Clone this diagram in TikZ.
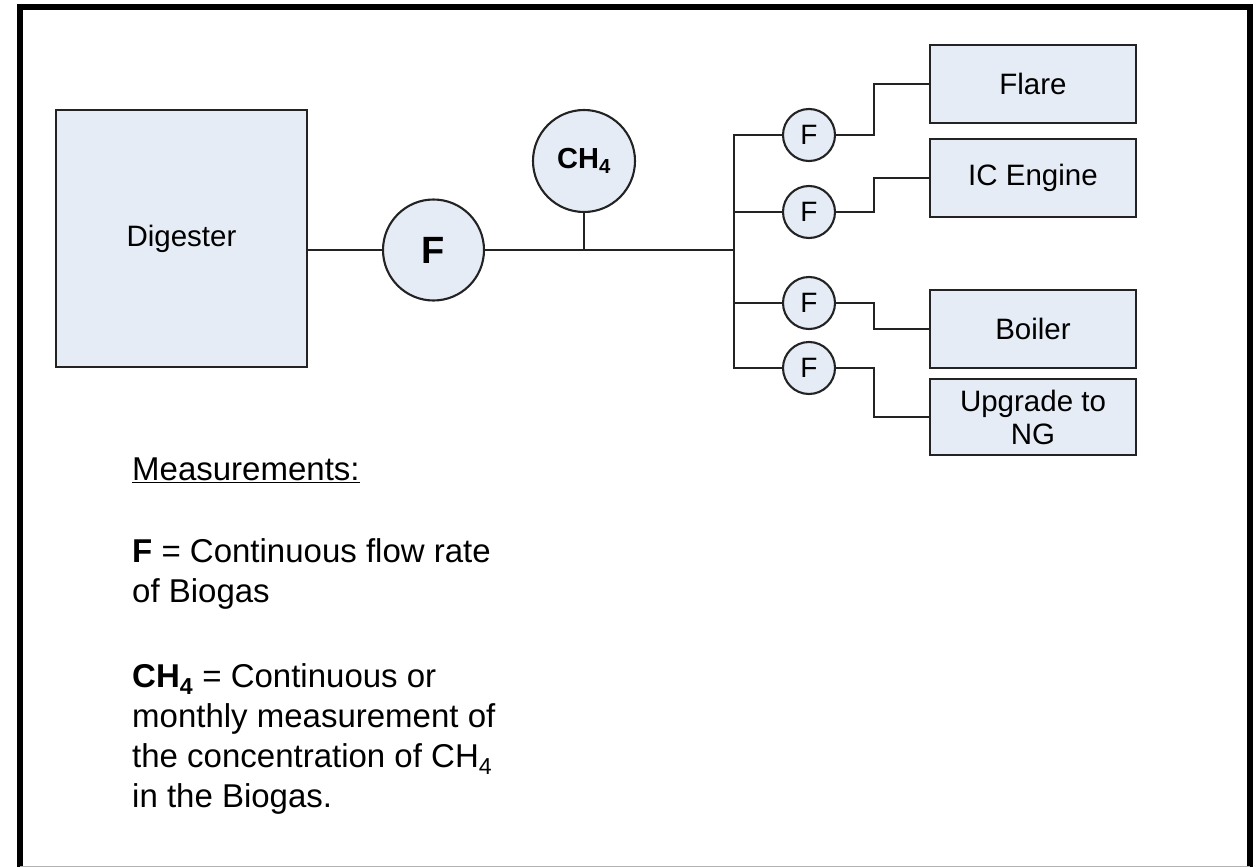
\documentclass[tikz,border=0pt]{standalone}
\usepackage{fontspec}
\setmainfont{Liberation Sans}
\definecolor{boxfill}{RGB}{230,236,246}
\definecolor{edge}{RGB}{35,35,35}
\begin{document}
\begin{tikzpicture}[x=1pt,y=-1pt,
  pipe/.style={draw=edge,line width=2.3pt},
  unitbox/.style={draw=edge,fill=boxfill,line width=2.3pt,inner sep=0pt,align=center,
    font=\fontsize{29.5}{33}\selectfont},
  meter/.style={circle,draw=edge,fill=boxfill,line width=2.1pt,inner sep=0pt},
  note/.style={anchor=base west,inner sep=0pt,font=\fontsize{33}{40}\selectfont}]
\useasboundingbox (0,0) rectangle (1256,867);
% frame
\draw[line width=6pt] (20,875) -- (20,7) -- (1250,7) -- (1250,875);
\draw[gray!60,line width=1pt] (20,866) -- (1250,866);
% units
\node[unitbox,minimum width=251pt,minimum height=257pt] (dig) at (181.5,238.5) {Digester};
\node[meter,minimum size=101pt,font=\fontsize{38}{40}\selectfont\bfseries] (F0) at (433.5,250) {F};
\node[meter,minimum size=102pt,font=\fontsize{29}{30}\selectfont\bfseries] (ch4) at (584,161) {CH\textsubscript{4}};
\coordinate (tap) at (584,250);
\coordinate (bus) at (734,250);
\coordinate (btop) at (734,135);
\coordinate (bbot) at (734,368);
\foreach \n/\y in {f1/135,f2/212,f3/303,f4/368}
  \node[meter,minimum size=52pt,font=\fontsize{28}{30}\selectfont] (\n) at (809,\y) {F};
\node[unitbox,minimum width=206pt,minimum height=78pt] (flare) at (1033,84) {Flare};
\node[unitbox,minimum width=206pt,minimum height=78pt] (ice) at (1033,178) {IC Engine};
\node[unitbox,minimum width=206pt,minimum height=78pt] (boil) at (1033,329) {Boiler};
\node[unitbox,minimum width=206pt,minimum height=76pt] (upg) at (1033,417) {Upgrade to\\NG};
% pipes
\draw[pipe] (F0.west -| dig.east) -- (F0.west);
\draw[pipe] (F0.east) -- (bus);
\draw[pipe] (ch4.south) -- (tap);
\draw[pipe] (f1.west) -- (btop) -- (bbot) -- (f4.west);
\draw[pipe] (f2.west) -- (f2.west -| btop);
\draw[pipe] (f3.west) -- (f3.west -| btop);
\draw[pipe] (f1.east) -- ++(38,0) |- (flare.west);
\draw[pipe] (f2.east) -- ++(38,0) |- (ice.west);
\draw[pipe] (f3.east) -- ++(38,0) |- (boil.west);
\draw[pipe] (f4.east) -- ++(38,0) |- (upg.west);
% legend
\node[note] (m0) at (132,480) {\underline{Measurements:}};
\node[note] (m1) at (132,562) {\textbf{F} = Continuous flow rate};
\node[note] (m2) at (132,602) {of Biogas};
\node[note] (m3) at (132,687) {\textbf{CH\textsubscript{4}} = Continuous or};
\node[note] (m4) at (132,727) {monthly measurement of};
\node[note] (m5) at (132,767) {the concentration of CH\textsubscript{4}};
\node[note] (m6) at (132,807) {in the Biogas.};
\end{tikzpicture}
\end{document}
